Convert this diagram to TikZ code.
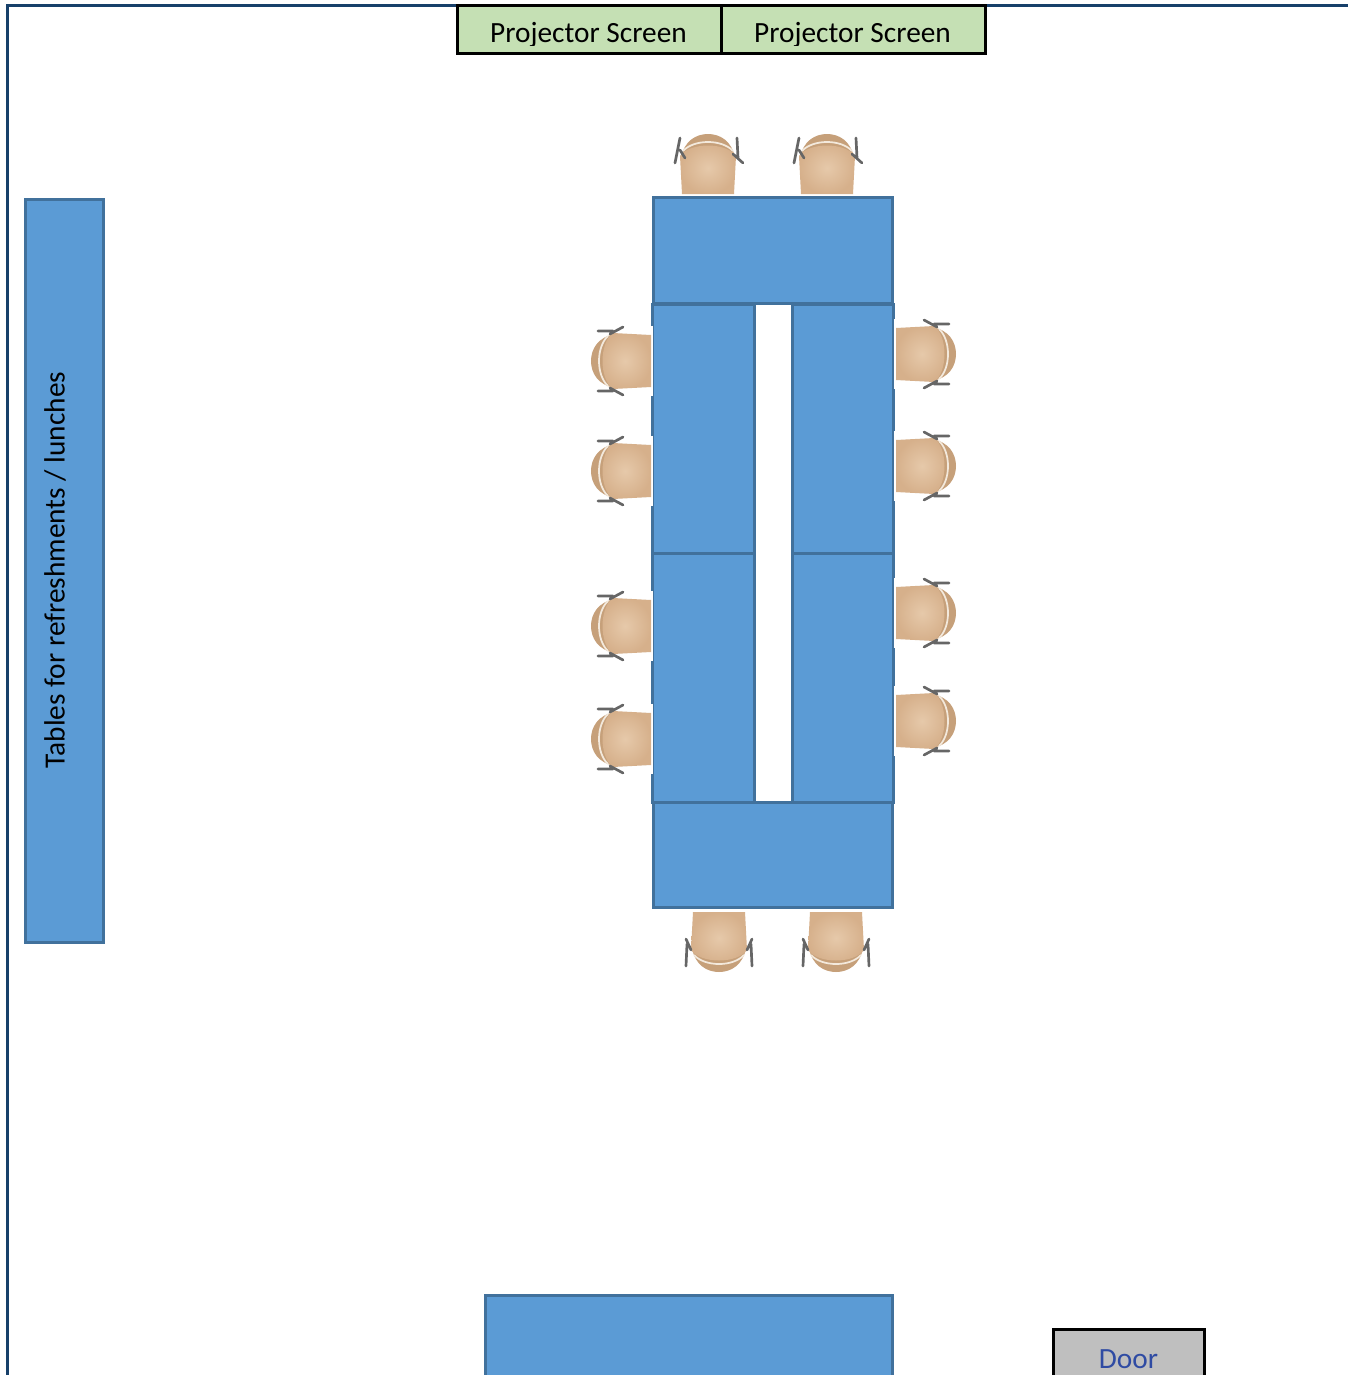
\documentclass[tikz,border=0pt]{standalone}
\usepackage{fontspec}
\setmainfont{Carlito}
\definecolor{tablefill}{HTML}{5B9BD5}
\definecolor{tableline}{HTML}{41719C}
\definecolor{wallline}{HTML}{17406A}
\definecolor{screenfill}{HTML}{C5E0B4}
\definecolor{doorfill}{HTML}{BFBFBF}
\definecolor{doortext}{HTML}{2F4BA3}
\definecolor{seatlight}{HTML}{E6C9AA}
\definecolor{seatdark}{HTML}{D6B08B}
\definecolor{seatback}{HTML}{C6A07A}
\definecolor{seatarc}{HTML}{F3E9DC}
\definecolor{seatleg}{HTML}{666666}
\newcommand{\seatbody}{%
  \fill[white] (-35,2) rectangle (35,-63);
  \fill[seatback] (-27,-36) .. controls (-24,-53) and (-12,-60) .. (0,-60)
    .. controls (12,-60) and (24,-53) .. (27,-36) -- cycle;
  \shade[inner color=seatlight,outer color=seatdark] (-26,0) -- (-28,-38)
    .. controls (-18,-52) and (18,-52) .. (28,-38) -- (26,0) -- cycle;
  \draw[seatarc,line width=1.3pt] (-25,-43) .. controls (-14,-55) and (14,-55) .. (25,-43);
}
\tikzset{
  tablebox/.style={draw=tableline,fill=tablefill,line width=2.25pt},
  screenbox/.style={draw=black,fill=screenfill,line width=2.25pt},
  labeltext/.style={font=\fontsize{22}{24}\selectfont,inner sep=0pt},
  seatlegs/.style={seatleg,line width=2pt,line cap=round},
  pics/seat/.style={code={
    \seatbody
    \draw[seatlegs] (-28,-56) -- (-33,-31) (-28,-44) -- (-23,-36)
      (29,-56) -- (30,-36) (25,-40) -- (35,-31);
  }},
  pics/sideseat/.style={code={
    \seatbody
    \draw[seatlegs] (-30,-53) -- (-30,-38) (-27,-41) -- (-34,-28)
      (30,-53) -- (30,-38) (27,-41) -- (34,-28);
  }},
  pics/lowseat/.style={code={
    \seatbody
    \draw[seatlegs] (-33,-54) -- (-32,-32) (-28,-38) -- (-33,-27)
      (33,-54) -- (32,-32) (28,-38) -- (33,-27);
  }}
}
\begin{document}
\begin{tikzpicture}[x=.75pt,y=-.75pt]
  \useasboundingbox (0,0) rectangle (1348,1375);
  % room walls
  \draw[wallline,line width=2.25pt] (7,1380) -- (7,5) -- (1350,5);
  % projector screens
  \draw[screenbox] (457,5) rectangle (721,53);
  \draw[screenbox] (721,5) rectangle (985,53);
  \begin{scope}
    \clip (457,6) rectangle (985,45);
    \node[labeltext,anchor=base] (screenA) at (588.5,42) {Projector Screen};
    \node[labeltext,anchor=base] (screenB) at (852.5,42) {Projector Screen};
  \end{scope}
  % side table
  \draw[tablebox] (25,199) rectangle (103,942);
  \node[labeltext,rotate=90] (sidelabel) at (55,570) {Tables for refreshments / lunches};
  % main tables
  \draw[tablebox] (653,197) rectangle (892,303);
  \draw[tablebox] (653,802) rectangle (892,907);
  \foreach \xa/\xb in {652/754,792/893}
    \foreach \ya/\yb in {304/553,553/802}
      \draw[tablebox] (\xa,\ya) rectangle (\xb,\yb);
  % chairs
  \foreach \cx in {708,827}
    \pic at (\cx,194) {seat};
  \foreach \cx in {719,836}
    \pic[rotate=180] at (\cx,912) {lowseat};
  \foreach \cy in {361,471,626,739}
    \pic[rotate=90] at (651,\cy) {sideseat};
  \foreach \cy in {354,466,613,721}
    \pic[rotate=-90] at (896,\cy) {sideseat};
  % bottom table and door
  \draw[tablebox] (485,1295) rectangle (892,1385);
  \draw[draw=black,fill=doorfill,line width=2.25pt] (1053,1329) rectangle (1204,1385);
  \node[labeltext,anchor=base,text=doortext] (doorlabel) at (1128.5,1368) {Door};
\end{tikzpicture}
\end{document}
